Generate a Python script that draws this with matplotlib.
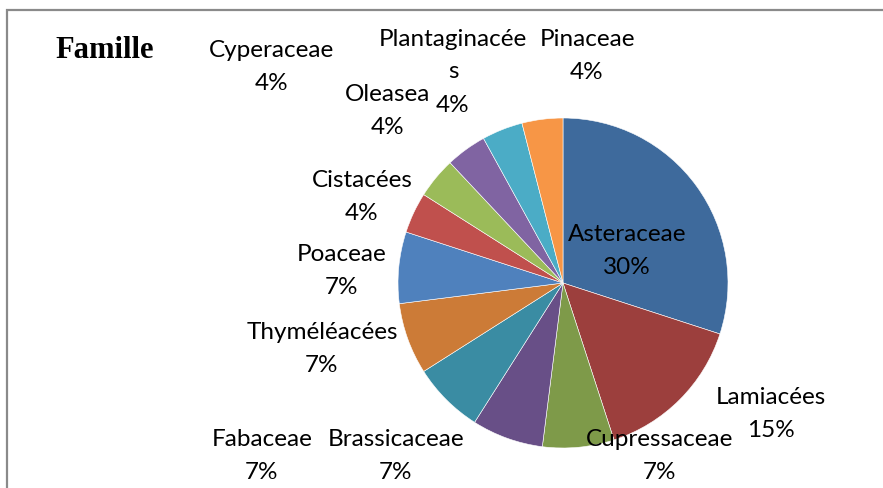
import matplotlib.pyplot as plt
from matplotlib.patches import Rectangle

# ── Data (clockwise from 12 o'clock) ──────────────────────────────────────────

FAMILIES = ["Asteraceae", "Lamiacées", "Cupressaceae", "Brassicaceae",
            "Fabaceae", "Thyméléacées", "Poaceae", "Cistacées",
            "Cyperaceae", "Oleasea", "Plantaginacée\ns", "Pinaceae"]
PERCENTS = [30, 15, 7, 7, 7, 7, 7, 4, 4, 4, 4, 4]

COLORS = ["#3E6A9C", "#9C3F3D", "#7E9A49", "#684F87", "#3A8CA3", "#CC7B37",
          "#4F81BD", "#C0504D", "#9BBB59", "#8064A2", "#4BACC6", "#F79646"]

# label centres in pixel coords (x, y from top)
LABEL_POS = [(627, 251), (771, 414), (660, 456), (396, 456),
             (262, 456), (322, 349), (342, 271), (362, 197),
             (272, 67), (388, 111), (453, 72), (587, 56)]
LINE_STEP = 33

W, H = 883, 488
CENTER = (563, H - 283)
RADIUS = 165

fig = plt.figure(figsize=(W / 100, H / 100), dpi=100)
ax = fig.add_axes([0, 0, 1, 1])

ax.pie(PERCENTS, colors=COLORS, startangle=90, counterclock=False,
       center=CENTER, radius=RADIUS, frame=True,
       wedgeprops=dict(edgecolor="white", linewidth=0.4))
ax.set_xlim(0, W)
ax.set_ylim(0, H)
ax.axis("off")

# chart frame (right and bottom edges fall outside the picture)
ax.add_patch(Rectangle((7, -10), W, H, fill=False,
                       edgecolor="#8a8a8a", linewidth=1.6, clip_on=False))

# each label line as its own text, centred on the label position
for name, pct, (x, y) in zip(FAMILIES, PERCENTS, LABEL_POS):
    lines = name.split("\n") + [f"{pct}%"]
    top = y - LINE_STEP * (len(lines) - 1) / 2
    for i, line in enumerate(lines):
        ax.text(x, H - (top + i * LINE_STEP), line, ha="center", va="center",
                fontsize=17.5, family="Lato", color="black")

ax.text(55, H - 50, "Famille", ha="left", va="center", fontsize=22,
        fontweight="bold", family="Liberation Serif")

fig.savefig("out.png", dpi=100)
